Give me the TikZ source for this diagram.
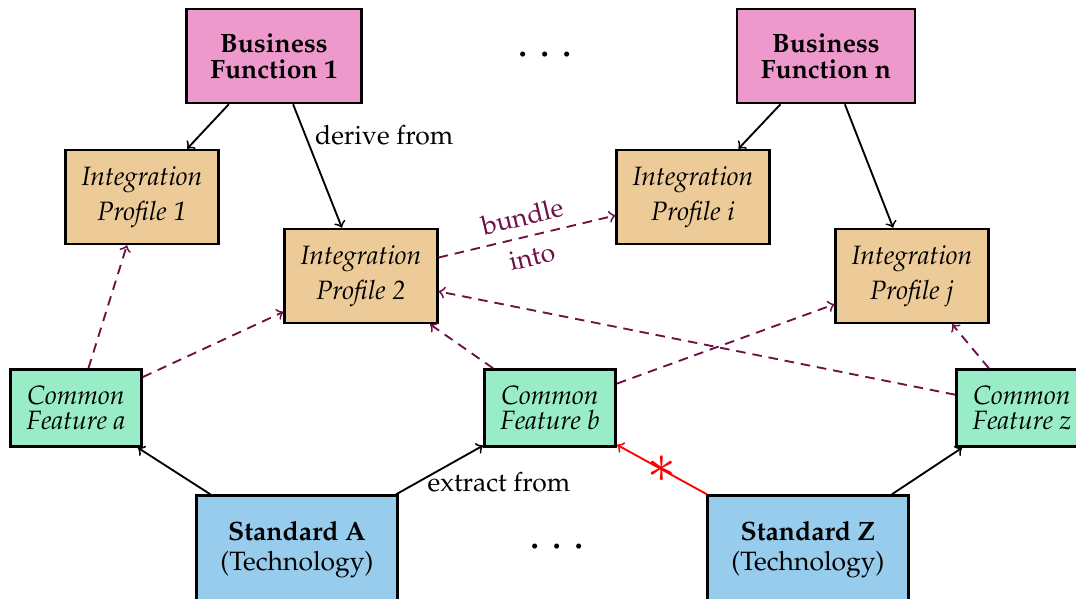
\documentclass[tikz,border=0pt]{standalone}
\usepackage[T1]{fontenc}
\usepackage{mathpazo}
\usepackage{tikz}
\usetikzlibrary{arrows}

\definecolor{bizpink}{RGB}{237,153,204}
\definecolor{proftan}{RGB}{237,203,152}
\definecolor{featgreen}{RGB}{152,237,200}
\definecolor{stdblue}{RGB}{152,204,237}
\definecolor{bundlepurple}{RGB}{110,15,70}

\begin{document}
\begin{tikzpicture}[x=0.377pt,y=-0.377pt,
  box/.style={draw,line width=1pt,align=center},
  biz/.style={box,fill=bizpink,inner xsep=9pt,minimum height=35.4pt,
    font=\bfseries\fontsize{10}{9.8}\selectfont},
  prof/.style={box,fill=proftan,inner xsep=6pt,minimum height=35.4pt,
    font=\itshape\fontsize{10}{13.2}\selectfont},
  feat/.style={box,fill=featgreen,inner xsep=6pt,minimum height=29pt,
    font=\itshape\fontsize{10}{9.4}\selectfont},
  std/.style={box,fill=stdblue,inner xsep=9pt,minimum height=41pt,
    font=\fontsize{10}{11.3}\selectfont},
  link/.style={->,line width=0.7pt},
  bundle/.style={->,dash pattern=on 3.6pt off 2.6pt,line width=0.7pt,color=bundlepurple}]

  \useasboundingbox (0,0) rectangle (1076,599);

  % business functions
  \node[biz] (bf1) at (274,56) {Business\\Function 1};
  \node[biz] (bfn) at (826,56) {Business\\Function n};
  \node (dtop) at (545,56) {\LARGE$\cdots$};

  % integration profiles
  \node[prof] (ip1) at (142,197) {Integration\\Profile 1};
  \node[prof] (ip2) at (361,276) {Integration\\Profile 2};
  \node[prof] (ipi) at (693,197) {Integration\\Profile i};
  \node[prof] (ipj) at (912,276) {Integration\\Profile j};

  % common features
  \node[feat] (cfa) at (76,408) {Common\\Feature a};
  \node[feat] (cfb) at (550,408) {Common\\Feature b};
  \node[feat] (cfz) at (1022,408) {Common\\Feature z};

  % standards
  \node[std] (sa) at (297,550) {\textbf{Standard A}\\(Technology)};
  \node[std] (sz) at (808,550) {\textbf{Standard Z}\\(Technology)};
  \node (dbot) at (557,548) {\LARGE$\cdots$};

  % derive profiles from business functions
  \draw[link] (bf1) -- (ip1);
  \draw[link] (bf1) -- node[pos=0.25,right] {derive from} (ip2);
  \draw[link] (bfn) -- (ipi);
  \draw[link] (bfn) -- (ipj);

  % bundle features into profiles
  \draw[bundle] (ip2) -- node[sloped,align=center,
    font=\fontsize{10}{15.5}\selectfont] {bundle\\into} (ipi);
  \foreach \f/\p in {cfa/ip1,cfa/ip2,cfb/ip2,cfb/ipj,cfz/ip2,cfz/ipj}
    \draw[bundle] (\f) -- (\p);

  % extract features from standards
  \draw[link] (sa) -- (cfa);
  \draw[link] (sa) -- node[pos=0.25,right] {extract from} (cfb);
  \draw[link,red] (sz) -- node[inner sep=0pt,font=\huge] {$\ast$} (cfb);
  \draw[link] (sz) -- (cfz);
\end{tikzpicture}
\end{document}
